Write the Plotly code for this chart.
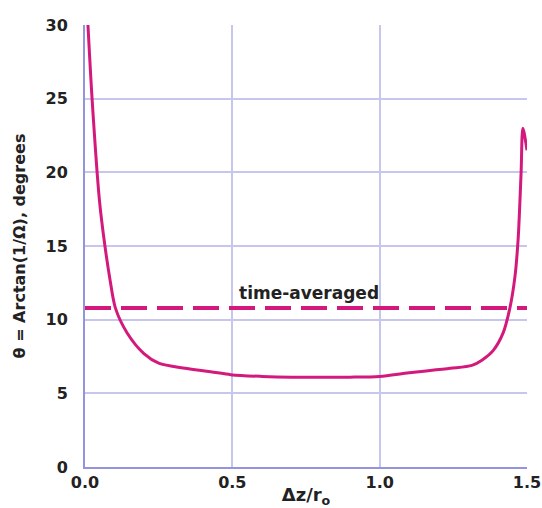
import plotly.graph_objects as go

dz = [0.01, 0.024, 0.049, 0.067, 0.085, 0.103, 0.143, 0.2, 0.25, 0.34, 0.45, 0.5,
      0.6, 0.7, 0.8, 0.9, 1.0, 1.1, 1.24, 1.313, 1.347, 1.385, 1.419, 1.442, 1.459,
      1.47, 1.48, 1.486, 1.5]
theta = [30.0, 25.0, 18.1, 15.1, 12.7, 10.8, 9.1, 7.7, 7.05, 6.7, 6.4, 6.25,
         6.15, 6.1, 6.1, 6.1, 6.15, 6.4, 6.7, 6.9, 7.25, 7.9, 9.1, 10.8, 12.9,
         15.5, 20.0, 23.0, 21.5]
avg_x = [0.0, 1.5]
avg_theta = [10.8, 10.8]
x_ticks = [0.0, 0.5, 1.0, 1.5]
x_tick_labels = ["0.0", "0.5", "1.0", "1.5"]
y_ticks = [0, 5, 10, 15, 20, 25, 30]

FONT = "DejaVu Sans, Liberation Sans, Arial"
col = "#d4197c"
fig = go.Figure()
fig.add_trace(go.Scatter(x=avg_x, y=avg_theta, mode="lines",
                         line=dict(color=col, width=4, dash="26px,10px"),
                         showlegend=False, hoverinfo="skip"))
fig.add_trace(go.Scatter(x=dz, y=theta, mode="lines",
                         line=dict(color=col, width=3, shape="spline", smoothing=0.8),
                         showlegend=False, cliponaxis=False))
fig.add_annotation(x=0.76, y=11.8, text="<b>time-averaged</b>", showarrow=False,
                   font=dict(family=FONT, size=17, color="#222"))

axfont = dict(family=FONT, size=16, color="#222")
fig.update_xaxes(range=[0, 1.5], tickvals=x_ticks, ticktext=["<b>%s</b>" % t for t in x_tick_labels],
                 showgrid=True, gridcolor="#c6c6ef", gridwidth=1.5,
                 showline=True, linecolor="#9494de", linewidth=2, mirror=False,
                 zeroline=False, tickfont=axfont, ticks="", automargin=False,
                 title=dict(text="<b>Δz/r<sub>o</sub></b>", font=dict(family=FONT, size=18, color="#222"), standoff=1))
fig.update_yaxes(range=[0, 30], tickvals=y_ticks, ticktext=["<b>%d</b>" % v for v in y_ticks],
                 showgrid=True, gridcolor="#c6c6ef", gridwidth=1.5,
                 showline=True, linecolor="#9494de", linewidth=2,
                 zeroline=False, tickfont=axfont, ticks="", ticklabelstandoff=12, automargin=False,
                 title=dict(text="<b>θ = Arctan(1/Ω), degrees</b>", font=dict(family=FONT, size=16, color="#222"), standoff=16))
fig.update_layout(width=542, height=508, margin=dict(l=85, r=15, t=25, b=41),
                  plot_bgcolor="white", paper_bgcolor="white")
fig.write_html("out.html", config={"displayModeBar": False},
               post_script="document.body.style.margin='0';document.body.style.overflow='hidden';")
